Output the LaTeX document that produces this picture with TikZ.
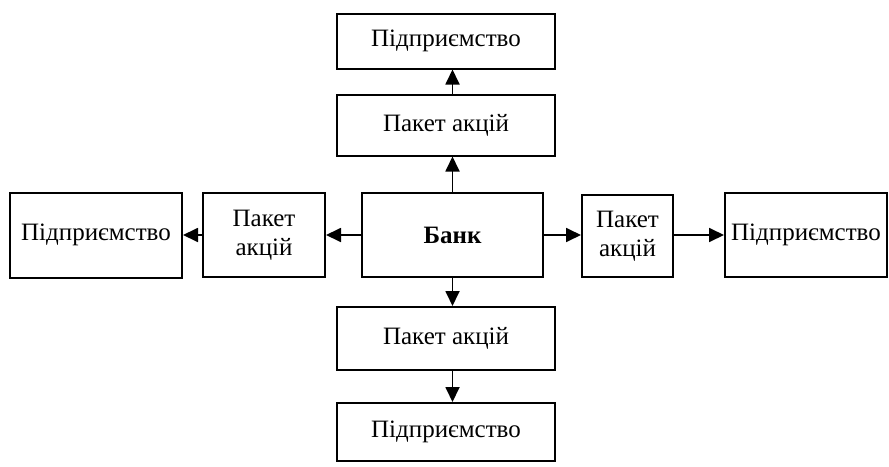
\documentclass[tikz,border=0pt]{standalone}
\usepackage{fontspec}
\setmainfont{Liberation Serif}
\usetikzlibrary{arrows.meta}
\tikzset{
  box/.style={draw, line width=2pt, align=center, font=\fontsize{25}{29}\selectfont, inner sep=0pt},
  arr/.style={line width=1.8pt, -{Triangle[length=15pt,width=14pt]}}
}
\begin{document}
\begin{tikzpicture}[x=1pt, y=-1pt]
    \useasboundingbox (0,0) rectangle (889,466);
    \node[box, minimum width=181pt, minimum height=84pt] (bank) at (452.5,235) {\textbf{Банк}};
    % vertical branch
    \node[box, minimum width=218pt, minimum height=61pt] (kTop) at (446,125) {Пакет акцій};
    \node[box, minimum width=218pt, minimum height=55pt] (pTop) at (446,41) {Підприємство};
    \node[box, minimum width=218pt, minimum height=63pt] (kBot) at (446,338.5) {Пакет акцій};
    \node[box, minimum width=218pt, minimum height=58pt] (pBot) at (446,432) {Підприємство};
    % horizontal branch
    \node[box, minimum width=122pt, minimum height=84pt] (kLeft) at (264,235) {Пакет\\акцій};
    \node[box, minimum width=172pt, minimum height=85pt] (pLeft) at (96,235) {Підприємство};
    \node[box, minimum width=91pt, minimum height=82pt] (kRight) at (627.5,236) {Пакет\\акцій};
    \node[box, minimum width=162pt, minimum height=84pt] (pRight) at (806,235) {Підприємство};
    % arrows
    \draw[arr] (bank.north) -- (bank.north |- kTop.south);
    \draw[arr] (bank.north |- kTop.north) -- (bank.north |- pTop.south);
    \draw[arr] (bank.south) -- (bank.south |- kBot.north);
    \draw[arr] (bank.south |- kBot.south) -- (bank.south |- pBot.north);
    \draw[arr] (bank.west) -- (kLeft.east |- bank.west);
    \draw[arr] (kLeft.west) -- (pLeft.east |- kLeft.west);
    \draw[arr] (bank.east) -- (kRight.west |- bank.east);
    \draw[arr] (kRight.east |- bank.east) -- (pRight.west |- bank.east);
\end{tikzpicture}
\end{document}
